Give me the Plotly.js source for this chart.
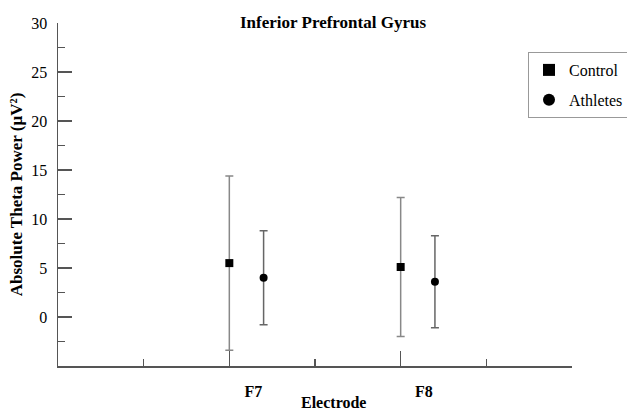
<!DOCTYPE html>
<html>
<head>
<meta charset="utf-8">
<script src="https://cdn.plot.ly/plotly-3.0.1.min.js"></script>
<style>html,body{margin:0;padding:0;background:#fff;}#chart{width:627px;height:411px;}</style>
</head>
<body>
<div id="chart"></div>
<script>
var categories = ['F7', 'F8'];
var seriesNames = ['Control', 'Athletes'];
var controlPos = [2, 4];
var athletesPos = [2.4, 4.4];
var labelPos = [2.28, 4.27];
var controlMean = [5.5, 5.1];
var controlErr = [8.9, 7.1];
var athletesMean = [4.0, 3.6];
var athletesErr = [4.8, 4.7];
var yMajor = [0, 5, 10, 15, 20, 25, 30];
var yMinor = [-2.5, 2.5, 7.5, 12.5, 17.5, 22.5, 27.5];
var xMajor = [2, 4, 6];
var xMinor = [1, 3, 5];

var FONT = 'Liberation Serif';
var AX = '#555';

var traces = [
  {
    type: 'scatter', mode: 'markers', name: seriesNames[0],
    x: controlPos, y: controlMean, legendgroup: 'c',
    marker: {symbol: 'square', size: 8, color: '#000'},
    error_y: {type: 'data', array: controlErr, visible: true, color: '#888', thickness: 1.5, width: 4}
  },
  {
    type: 'scatter', mode: 'markers', name: seriesNames[1],
    x: athletesPos, y: athletesMean, legendgroup: 'a',
    marker: {symbol: 'circle', size: 8, color: '#000'},
    error_y: {type: 'data', array: athletesErr, visible: true, color: '#666', thickness: 1.5, width: 4}
  },
  {
    type: 'scatter', mode: 'markers', x: labelPos, y: [null, null],
    xaxis: 'x2', showlegend: false, hoverinfo: 'skip'
  }
];

var layout = {
  width: 627, height: 411,
  margin: {l: 58, r: 55, t: 23, b: 45, autoexpand: false},
  paper_bgcolor: '#fff', plot_bgcolor: '#fff',
  font: {family: FONT, size: 16, color: '#000'},
  showlegend: true,
  title: {
    text: 'Inferior Prefrontal Gyrus',
    font: {family: FONT, size: 17, weight: 'bold', color: '#000'},
    xref: 'container', x: 333 / 627, xanchor: 'center',
    yref: 'container', y: 1 - 22 / 411, yanchor: 'middle'
  },
  xaxis: {
    range: [0, 6], showgrid: false, zeroline: false, automargin: false,
    showline: true, linecolor: AX, linewidth: 1.5,
    tickmode: 'array', tickvals: xMajor, ticks: 'inside', ticklen: 15, tickwidth: 1.5, tickcolor: AX,
    showticklabels: false,
    minor: {tickmode: 'array', tickvals: xMinor, ticks: 'inside', ticklen: 7, tickwidth: 1.5, tickcolor: AX, showgrid: false}
  },
  xaxis2: {
    overlaying: 'x', side: 'bottom', range: [0, 6], showgrid: false, zeroline: false, showline: false, automargin: false,
    tickmode: 'array', tickvals: labelPos, ticktext: categories, ticks: '',
    ticklabelstandoff: 14,
    tickfont: {family: FONT, size: 16, weight: 'bold', color: '#000'}
  },
  yaxis: {
    range: [-5, 30], showgrid: false, zeroline: false, automargin: false,
    showline: true, linecolor: AX, linewidth: 1.5,
    tickmode: 'array', tickvals: yMajor, ticks: 'inside', ticklen: 14, tickwidth: 1.5, tickcolor: AX,
    tickfont: {family: FONT, size: 16, color: '#000'},
    ticklabelstandoff: 6,
    minor: {tickmode: 'array', tickvals: yMinor, ticks: 'inside', ticklen: 7, tickwidth: 1.5, tickcolor: AX, showgrid: false},
    title: {text: 'Absolute Theta Power (µV²)', font: {family: FONT, size: 17, weight: 'bold', color: '#000'}, standoff: 4}
  },
  legend: {
    xref: 'container', yref: 'container',
    x: 528 / 627, xanchor: 'left', y: 1 - 52 / 411, yanchor: 'top',
    bordercolor: '#999', borderwidth: 1, bgcolor: '#fff',
    font: {family: FONT, size: 16, color: '#000'},
    itemsizing: 'constant', tracegroupgap: 6
  },
  annotations: [{
    text: 'Electrode', showarrow: false,
    xref: 'paper', x: (333 - 58) / 514, xanchor: 'center',
    yref: 'paper', y: -(402 - 366) / 343, yanchor: 'middle',
    font: {family: FONT, size: 16, weight: 'bold', color: '#000'}
  }]
};

Plotly.newPlot('chart', traces, layout, {displayModeBar: false, staticPlot: true});
</script>
</body>
</html>
